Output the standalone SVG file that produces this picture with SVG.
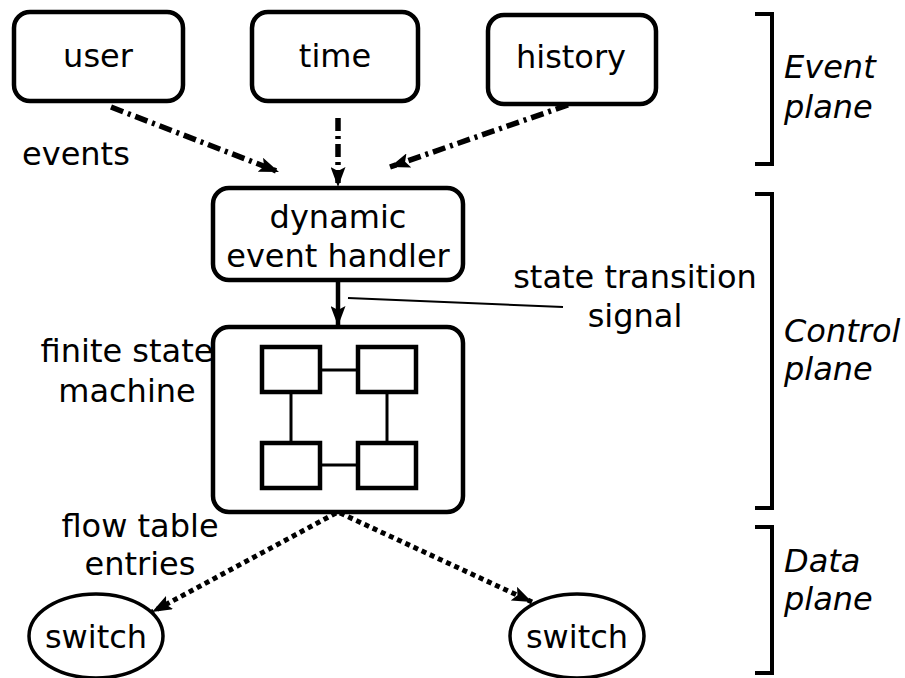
<svg xmlns="http://www.w3.org/2000/svg" width="905" height="678" viewBox="0 0 905 678">
  <style>
    text { font-family: "DejaVu Sans", "Liberation Sans", sans-serif; font-size: 32px; fill: #000; }
    .mid { text-anchor: middle; }
    .plane { font-style: italic; }
    .box { fill: #fff; stroke: #000; stroke-width: 4.5; }
    .sq { fill: #fff; stroke: #000; stroke-width: 4.5; }
    .link { fill: none; stroke: #000; stroke-width: 3; }
    .bracket { fill: none; stroke: #000; stroke-width: 4; }
    .dashdot { fill: none; stroke: #000; stroke-width: 5.5; stroke-dasharray: 13 5 3 5; }
    .dotted { fill: none; stroke: #000; stroke-width: 5; stroke-dasharray: 5 4; }
    .solid { fill: none; stroke: #000; stroke-width: 4.5; }
    .leader { fill: none; stroke: #000; stroke-width: 2; }
  </style>
  <defs>
    <marker id="head" markerUnits="userSpaceOnUse" markerWidth="20" markerHeight="15" viewBox="0 0 20 15" refX="20" refY="7.5" orient="auto">
      <path d="M0,0 L20,7.5 L0,15 L4,7.5 Z" fill="#000"/>
    </marker>
  </defs>

  <!-- event sources -->
  <g id="user">
    <rect class="box" x="14" y="12" width="169" height="89" rx="16"/>
    <text class="mid" x="98" y="67">user</text>
  </g>
  <g id="time">
    <rect class="box" x="252" y="12" width="166" height="89" rx="16"/>
    <text class="mid" x="335" y="67">time</text>
  </g>
  <g id="history">
    <rect class="box" x="488" y="15" width="168" height="89" rx="16"/>
    <text class="mid" x="571" y="68">history</text>
  </g>

  <!-- control plane -->
  <g id="handler">
    <rect class="box" x="213" y="188" width="250" height="92" rx="16"/>
    <text class="mid" x="338" y="228">dynamic</text>
    <text class="mid" x="338" y="267">event handler</text>
  </g>
  <g id="fsm">
    <rect class="box" x="213" y="327" width="250" height="185" rx="16"/>
    <line class="link" x1="320" y1="370" x2="357" y2="370"/>
    <line class="link" x1="320" y1="465" x2="357" y2="465"/>
    <line class="link" x1="291" y1="392" x2="291" y2="443"/>
    <line class="link" x1="387" y1="392" x2="387" y2="443"/>
    <rect class="sq" x="262" y="347" width="58" height="45"/>
    <rect class="sq" x="358" y="347" width="58" height="45"/>
    <rect class="sq" x="262" y="443" width="58" height="45"/>
    <rect class="sq" x="358" y="443" width="58" height="45"/>
  </g>

  <!-- data plane -->
  <g id="switch-left">
    <ellipse cx="96" cy="636" rx="67" ry="42" fill="#fff" stroke="#000" stroke-width="3.5"/>
    <text class="mid" x="96" y="648">switch</text>
  </g>
  <g id="switch-right">
    <ellipse cx="577" cy="636" rx="67" ry="42" fill="#fff" stroke="#000" stroke-width="3.5"/>
    <text class="mid" x="577" y="648">switch</text>
  </g>

  <!-- connectors -->
  <g id="connectors">
    <path class="dashdot" d="M111,107 L279,172" marker-end="url(#head)"/>
    <path class="dashdot" d="M338,118 L338,187" marker-end="url(#head)"/>
    <path class="dashdot" d="M568,105 L390,167" marker-end="url(#head)"/>
    <path class="solid" d="M338,281 L338,326" marker-end="url(#head)"/>
    <path class="dotted" d="M336,513 L152,612" marker-end="url(#head)"/>
    <path class="dotted" d="M340,513 L532,602" marker-end="url(#head)"/>
    <path class="leader" d="M348,298 L563,307"/>
  </g>

  <!-- free labels -->
  <g id="labels">
    <text x="22" y="165">events</text>
    <text class="mid" x="635" y="288">state transition</text>
    <text class="mid" x="635" y="327">signal</text>
    <text class="mid" x="127" y="362">finite state</text>
    <text class="mid" x="127" y="402">machine</text>
    <text class="mid" x="140" y="537">flow table</text>
    <text class="mid" x="140" y="575">entries</text>
  </g>

  <!-- plane brackets -->
  <g id="planes">
    <path class="bracket" d="M755,14 L772,14 L772,164 L755,164"/>
    <text class="plane" x="784" y="78">Event</text>
    <text class="plane" x="784" y="118">plane</text>
    <path class="bracket" d="M755,194 L772,194 L772,508 L755,508"/>
    <text class="plane" x="784" y="342">Control</text>
    <text class="plane" x="784" y="380">plane</text>
    <path class="bracket" d="M755,527 L772,527 L772,673 L755,673"/>
    <text class="plane" x="784" y="572">Data</text>
    <text class="plane" x="784" y="610">plane</text>
  </g>
</svg>
